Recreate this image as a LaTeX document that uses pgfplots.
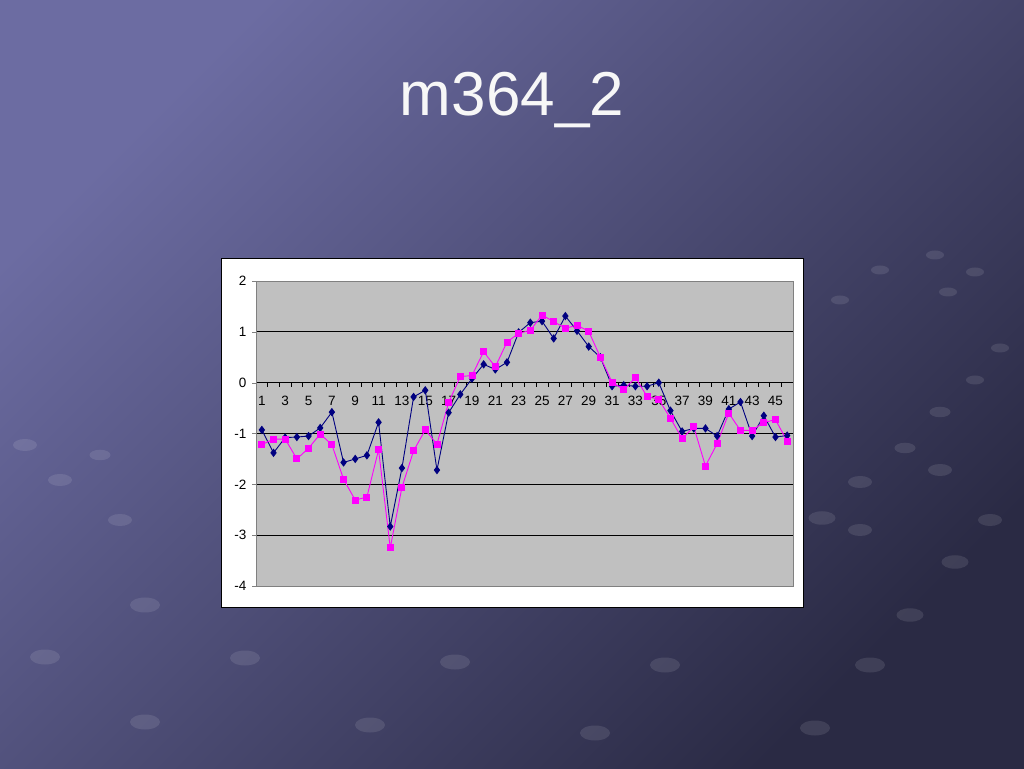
\documentclass[border=0pt]{standalone}
\usepackage{pgfplots}
\pgfplotsset{compat=1.18}
\usepackage{fontspec}
\setmainfont{Liberation Sans}
\definecolor{bgA}{HTML}{6C6CA2}
\definecolor{bgB}{HTML}{2A2A44}
\definecolor{plotgray}{HTML}{C0C0C0}
\definecolor{navyser}{HTML}{000080}
\definecolor{pinkser}{HTML}{FF00FF}
\begin{document}
\begin{tikzpicture}[x=1pt,y=1pt]
\path[use as bounding box] (0,0) rectangle (1024,768);
\shade[shading=axis, top color=bgA, bottom color=bgB, shading angle=45] (0,0) rectangle (1024,768);
% decorative background dots
\foreach \px/\py/\s in {45/657/1,145/605/1,245/658/1,455/662/1,665/665/1,870/665/1,145/722/1,370/725/1,595/733/1,815/728/1,910/615/0.9,955/562/0.9,990/520/0.8,822/518/0.9,860/482/0.8,905/448/0.7,940/412/0.7,975/380/0.6,1000/348/0.6,860/530/0.8,940/470/0.8,120/520/0.8,60/480/0.8,25/445/0.8,100/455/0.7,840/300/0.6,880/270/0.6,935/255/0.6,975/272/0.6,948/292/0.6}
  \fill[white, opacity=0.10] (\px,768-\py) ellipse ({15*\s} and {7.5*\s});
% title
\node[white!94!gray, font=\fontsize{62}{70}\selectfont] at (512,668) {m364\_2};
% white chart box
\fill[white] (221,161) rectangle (803,510);
\draw[black, line width=0.8pt] (221,161) rectangle (803,510);
\begin{axis}[
  at={(256pt,182pt)}, anchor=south west,
  width=537pt, height=305pt, scale only axis,
  xmin=0.5, xmax=46.5, ymin=-4, ymax=2,
  axis x line*=middle, axis y line*=left,
  axis line style={black, line width=0.8pt},
  axis background/.style={fill=plotgray},
  ytick={-4,-3,...,2},
  ymajorgrids, grid style={black, line width=0.8pt},
  xtick={1,3,...,45},
  major x tick style={draw=none},
  minor xtick={0.5,1.5,...,46.5},
  minor x tick style={black, line width=0.7pt},
  minor tick length=4pt,
  tick align=outside,
  major tick length=4pt,
  tick label style={font=\fontsize{13.5}{15}\selectfont},
  x tick label style={yshift=-6pt},
  y tick label style={xshift=-2pt},
  /pgf/number format/assume math mode=true,
  clip=false,
]
\addplot[navyser, line width=0.9pt, mark=diamond*, mark size=3.5pt, mark options={fill=navyser, draw=navyser}] coordinates {
(1,-0.93)(2,-1.38)(3,-1.08)(4,-1.07)(5,-1.05)(6,-0.89)(7,-0.58)(8,-1.57)(9,-1.50)(10,-1.43)
(11,-0.78)(12,-2.83)(13,-1.68)(14,-0.28)(15,-0.15)(16,-1.72)(17,-0.59)(18,-0.23)(19,0.08)(20,0.36)
(21,0.26)(22,0.40)(23,0.99)(24,1.18)(25,1.21)(26,0.87)(27,1.31)(28,1.02)(29,0.71)(30,0.50)
(31,-0.07)(32,-0.05)(33,-0.07)(34,-0.07)(35,0.00)(36,-0.55)(37,-0.96)(38,-0.90)(39,-0.90)(40,-1.05)
(41,-0.52)(42,-0.38)(43,-1.05)(44,-0.65)(45,-1.07)(46,-1.04)};
\addplot[pinkser, line width=0.9pt, mark=square*, mark size=3pt, mark options={fill=pinkser, draw=pinkser}] coordinates {
(1,-1.22)(2,-1.11)(3,-1.11)(4,-1.50)(5,-1.29)(6,-1.01)(7,-1.22)(8,-1.90)(9,-2.31)(10,-2.25)
(11,-1.32)(12,-3.25)(13,-2.06)(14,-1.34)(15,-0.93)(16,-1.21)(17,-0.39)(18,0.12)(19,0.14)(20,0.61)
(21,0.31)(22,0.80)(23,0.97)(24,1.03)(25,1.33)(26,1.20)(27,1.07)(28,1.13)(29,1.01)(30,0.50)
(31,0.01)(32,-0.14)(33,0.10)(34,-0.27)(35,-0.33)(36,-0.70)(37,-1.10)(38,-0.87)(39,-1.64)(40,-1.20)
(41,-0.60)(42,-0.94)(43,-0.94)(44,-0.78)(45,-0.73)(46,-1.15)};
\draw[gray, line width=0.6pt] (rel axis cs:0,0) rectangle (rel axis cs:1,1);
\end{axis}
\end{tikzpicture}
\end{document}
